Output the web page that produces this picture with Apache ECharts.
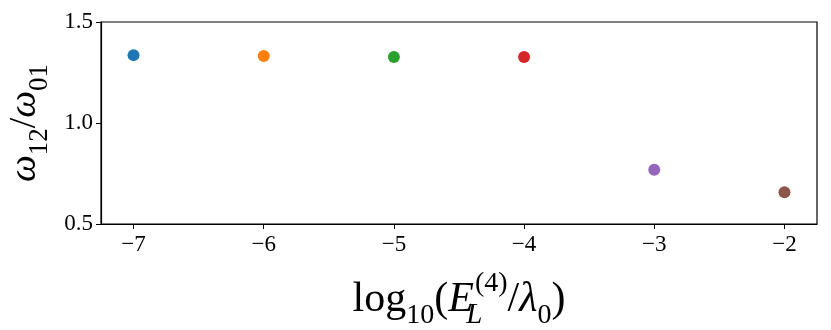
<!DOCTYPE html>
<html>
<head>
<meta charset="utf-8">
<script src="https://cdn.jsdelivr.net/npm/echarts@6/dist/echarts.min.js"></script>
<style>
  html, body { margin: 0; padding: 0; background: #fff; }
  #main { width: 831px; height: 330px; }
</style>
</head>
<body>
<div id="main"></div>
<script>
// data
const logE = [-7, -6, -5, -4, -3, -2];
const ratio = [1.336, 1.332, 1.327, 1.327, 0.768, 0.657];
const xTicks = [-7, -6, -5, -4, -3, -2];
// matplotlib tab10
const colors = ['#1f77b4', '#ff7f0e', '#2ca02c', '#d62728', '#9467bd', '#8c564b'];

const serif = 'Liberation Serif';
const minus = v => String(v).replace('-', '\u2212');

var myChart = echarts.init(document.getElementById('main'));
myChart.setOption({
  animation: false,
  grid: {
    left: 101, right: 14, top: 22, bottom: 106,
    outerBoundsMode: 'none',
    show: true, borderColor: '#000', borderWidth: 1.2
  },
  xAxis: {
    type: 'value',
    min: -7.25, max: -1.75,
    splitLine: { show: false },
    axisLine: { show: true, onZero: false, lineStyle: { color: '#000', width: 1.2 } },
    axisTick: { show: true, length: 5, customValues: xTicks, lineStyle: { color: '#000', width: 1 } },
    axisLabel: {
      customValues: xTicks, margin: 9,
      fontFamily: serif, fontSize: 23, color: '#000',
      formatter: v => minus(v)
    },
    name: '{n|log}{sub|10}{n|(}{it|E}{subL|L}{sup|(4)}{n|/}{it|λ}{sub|0}{n|)}',
    nameLocation: 'middle',
    nameGap: 46,
    nameTextStyle: {
      rich: {
        n: { fontFamily: serif, fontSize: 42, color: '#000', lineHeight: 60 },
        it: { fontFamily: serif, fontSize: 42, fontStyle: 'italic', color: '#000', lineHeight: 60 },
        sub: { fontFamily: serif, fontSize: 28, color: '#000', verticalAlign: 'bottom', lineHeight: 43 },
        subL: { fontFamily: serif, fontSize: 29, fontStyle: 'italic', color: '#000', verticalAlign: 'bottom', lineHeight: 36, width: 1 },
        sup: { fontFamily: serif, fontSize: 28, color: '#000', verticalAlign: 'top', lineHeight: 34 }
      }
    }
  },
  yAxis: {
    type: 'value',
    min: 0.5, max: 1.5, interval: 0.5,
    splitLine: { show: false },
    axisLine: { show: true, lineStyle: { color: '#000', width: 1.2 } },
    axisTick: { show: true, length: 5, lineStyle: { color: '#000', width: 1 } },
    axisLabel: {
      margin: 8,
      fontFamily: serif, fontSize: 23, color: '#000',
      formatter: v => v.toFixed(1)
    },
    name: '{it|ω}{sub|12}{n|/}{it|ω}{sub|01}',
    nameLocation: 'middle',
    nameRotate: 90,
    nameGap: 43,
    nameTextStyle: {
      rich: {
        n: { fontFamily: serif, fontSize: 38, color: '#000', lineHeight: 56 },
        it: { fontFamily: serif, fontSize: 38, fontStyle: 'italic', color: '#000', lineHeight: 56 },
        sub: { fontFamily: serif, fontSize: 27, color: '#000', verticalAlign: 'bottom', lineHeight: 38 }
      }
    }
  },
  series: [{
    type: 'scatter',
    symbolSize: 12,
    data: logE.map((x, i) => ({
      value: [x, ratio[i]],
      itemStyle: { color: colors[i], opacity: 1 }
    }))
  }]
});
</script>
</body>
</html>
